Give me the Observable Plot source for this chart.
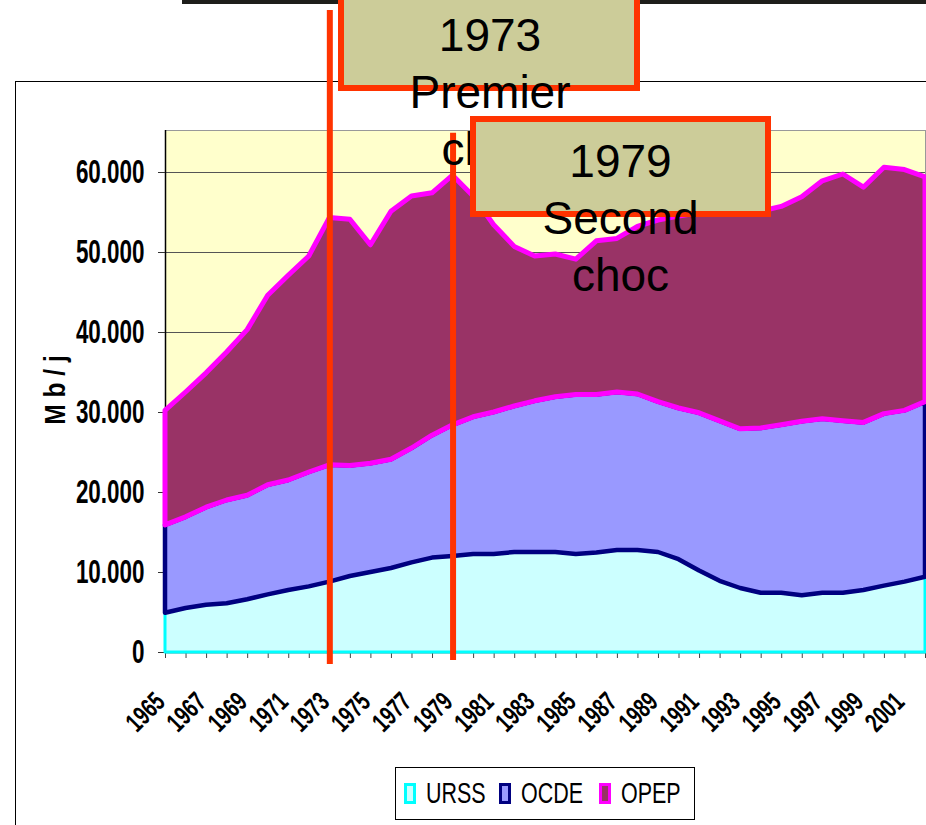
<!DOCTYPE html>
<html>
<head>
<meta charset="utf-8">
<script src="https://cdn.jsdelivr.net/npm/d3@7"></script>
<script src="https://cdn.jsdelivr.net/npm/@observablehq/plot@0.6"></script>
<style>
html,body{margin:0;padding:0;background:#fff;width:926px;height:825px;overflow:hidden;position:relative;font-family:"Liberation Sans",Arial,sans-serif}
#topbar{position:absolute;left:182px;top:0;width:744px;height:4px;background:#1e1e1a}
#frame{position:absolute;left:15px;top:81px;width:1000px;height:900px;border-left:1.5px solid #000;border-top:1.5px solid #000}
#chart{position:absolute;left:0;top:0}
#ytitle{position:absolute;left:55px;top:390px;font-size:30px;font-weight:bold;white-space:nowrap;transform:translate(-50%,-50%) rotate(-90deg) scaleX(0.82)}
.box{position:absolute;box-sizing:border-box;border:6px solid #FF3300;background:#CCCC99}
.btxt{position:absolute;text-align:center;font-size:46px;line-height:57px;color:#000;white-space:nowrap}
#legend{position:absolute;left:395px;top:767px;width:300px;height:53px;box-sizing:border-box;border:1px solid #000;background:#fff}
.lsq{position:absolute;top:15px;width:12px;height:21px;box-sizing:border-box;border:3px solid}
.ltx{position:absolute;top:11px;font-size:29px;line-height:28px;transform:scaleX(0.74);transform-origin:left center;white-space:nowrap}
</style>
</head>
<body>
<div id="topbar"></div>
<div id="frame"></div>
<div id="chart"></div>
<div id="ytitle">M b / j</div>
<div class="box" style="left:338px;top:-20px;width:302px;height:111px"></div>
<div class="btxt" style="left:340px;top:7px;width:300px">1973<br>Premier<br>choc</div>
<div class="box" style="left:470px;top:116px;width:301px;height:101px"></div>
<div class="btxt" style="left:470px;top:133px;width:301px">1979<br>Second<br>choc</div>
<div id="legend"></div>
<script>
// ---- data ----
const years = [1965,1966,1967,1968,1969,1970,1971,1972,1973,1974,1975,1976,1977,1978,1979,1980,1981,1982,1983,1984,1985,1986,1987,1988,1989,1990,1991,1992,1993,1994,1995,1996,1997,1998,1999,2000,2001,2002];
const seriesNames = ["URSS","OCDE","OPEP"];
const urss = [4900,5500,5900,6100,6600,7200,7750,8200,8800,9500,10000,10500,11200,11800,12000,12250,12250,12500,12500,12500,12250,12450,12750,12750,12500,11600,10200,8900,8000,7400,7400,7100,7400,7400,7750,8300,8800,9400];
const ocde = [11000,11400,12200,12900,13000,13700,13750,14300,14600,13800,13600,13600,14300,15300,16400,17150,17750,18250,18900,19400,19950,19750,19750,19500,18800,18900,19700,20000,19900,20600,21000,21750,21750,21500,20950,21500,21400,21900];
const opep = [14300,15600,16800,18500,20700,23700,25600,27000,30900,30800,27300,31000,31500,30300,31200,27600,23400,19950,18100,17850,16900,19200,19200,20950,22700,24000,25000,26100,26900,27100,27300,28050,29750,30850,29400,30800,30100,28100];
const yTicks = [0,10000,20000,30000,40000,50000,60000];
const yTickLabels = ["0","10.000","20.000","30.000","40.000","50.000","60.000"];
const xLabelYears = [1965,1967,1969,1971,1973,1975,1977,1979,1981,1983,1985,1987,1989,1991,1993,1995,1997,1999,2001];
const eventYears = [1973,1979];

// ---- styles ----
const fillColors = {URSS:"#CCFFFF", OCDE:"#9999FF", OPEP:"#993366"};
const strokeColors = {URSS:"#00FFFF", OCDE:"#000080", OPEP:"#FF00FF"};
const strokeWidths = {URSS:3, OCDE:4.5, OPEP:5};

const seriesValues = [urss, ocde, opep];
const data = [];
seriesNames.forEach((s, k) => years.forEach((yr, i) => data.push({year: yr, series: s, value: seriesValues[k][i]})));

const svg = Plot.plot({
  width: 926, height: 760,
  marginLeft: 165, marginRight: 1, marginTop: 130, marginBottom: 108,
  x: {domain: [1965, 2002]},
  y: {domain: [0, 65250]},
  color: {type: "identity"},
  style: {fontFamily: "'Liberation Sans', Arial, sans-serif", background: "transparent", overflow: "visible"},
  marks: [
    Plot.frame({fill: "#FFFFCC", stroke: "#999999"}),
    Plot.ruleY(yTicks.filter(d => d > 0), {stroke: "#555555", strokeWidth: 1}),
    Plot.ruleX([years[0]], {stroke: "#000", strokeWidth: 1.5}),
    Plot.ruleY([0], {stroke: "#000", strokeWidth: 1.5}),
    Plot.axisX(years, {tickSize: 6, tickFormat: () => "", label: null, stroke: "#444"}),
    Plot.axisY(yTicks, {tickSize: 7, tickFormat: () => "", label: null, stroke: "#333"}),
    Plot.areaY(data, {
      x: "year", y: "value", z: "series",
      fill: d => fillColors[d.series],
      stroke: d => strokeColors[d.series],
      strokeWidth: d => strokeWidths[d.series],
      strokeLinejoin: "round"
    }),
    Plot.ruleX(eventYears, {
      y1: (d, i) => [-1500, -1000][i],
      y2: (d, i) => [80250, 64900][i],
      stroke: "#FF3300", strokeWidth: 6
    }),
    Plot.text(yTicks, {
      frameAnchor: "left", y: d => d, text: (d, i) => yTickLabels[i],
      textAnchor: "end", dx: -21, fontSize: 34, fontWeight: "bold", fill: "#000"
    }),
    Plot.text(xLabelYears, {
      frameAnchor: "bottom", x: d => d, text: d => String(d),
      textAnchor: "end", lineAnchor: "bottom", rotate: -45, dx: 1, dy: 51,
      fontSize: 27, fontWeight: "bold", fill: "#000"
    })
  ]
});

// condense the axis label glyphs horizontally (the reference font is narrow)
const yLabelSet = new Set(yTickLabels);
const xLabelSet = new Set(xLabelYears.map(String));
d3.select(svg).selectAll("text").each(function() {
  const s = this.textContent;
  let sx = null;
  if (yLabelSet.has(s)) sx = 0.66;
  else if (xLabelSet.has(s)) sx = 0.7;
  if (sx == null) return;
  const t = this.getAttribute("transform");
  if (t) {
    this.setAttribute("transform", t + ` scale(${sx},1)`);
  } else {
    const x = parseFloat(this.getAttribute("x")) || 0;
    const y = parseFloat(this.getAttribute("y")) || 0;
    this.removeAttribute("x"); this.removeAttribute("y");
    this.setAttribute("transform", `translate(${x},${y}) scale(${sx},1)`);
  }
});

document.getElementById("chart").appendChild(svg);

// legend
const legend = document.getElementById("legend");
const sqLeft = [8, 103, 203];
const txLeft = [30, 125, 225];
seriesNames.forEach((s, i) => {
  const sq = document.createElement("div");
  sq.className = "lsq";
  sq.style.left = sqLeft[i] + "px";
  sq.style.borderColor = strokeColors[s];
  sq.style.background = fillColors[s];
  legend.appendChild(sq);
  const tx = document.createElement("div");
  tx.className = "ltx";
  tx.style.left = txLeft[i] + "px";
  tx.textContent = s;
  legend.appendChild(tx);
});
</script>
</body>
</html>
